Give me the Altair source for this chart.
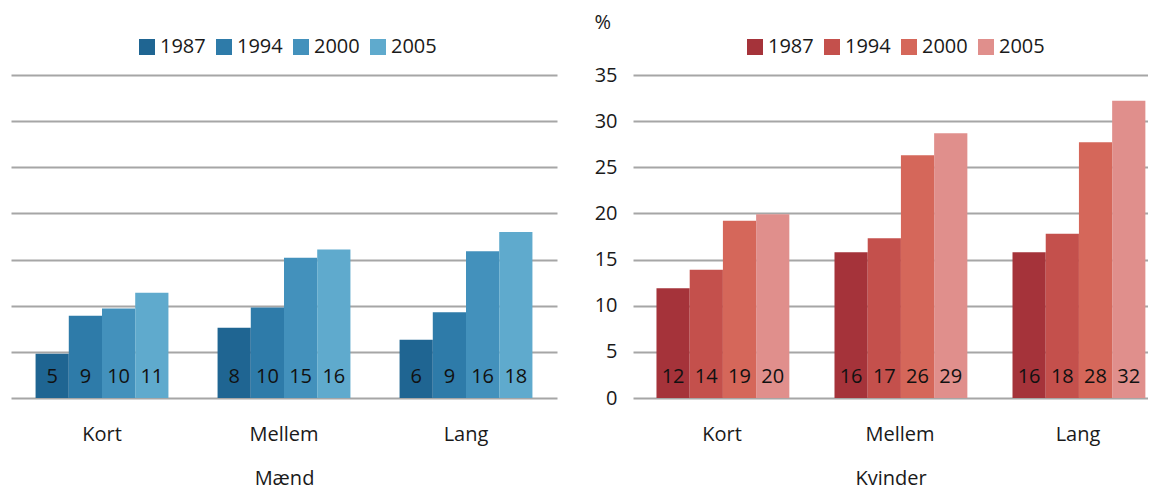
import altair as alt
import pandas as pd

categories = ["Kort", "Mellem", "Lang"]
years = ["1987", "1994", "2000", "2005"]

# Mænd (men), per category, values for 1987, 1994, 2000, 2005
maend_kort = [4.8, 8.9, 9.7, 11.4]
maend_mellem = [7.6, 9.8, 15.2, 16.1]
maend_lang = [6.3, 9.3, 15.9, 18.0]

# Kvinder (women)
kvinder_kort = [11.9, 13.9, 19.2, 19.9]
kvinder_mellem = [15.8, 17.3, 26.3, 28.7]
kvinder_lang = [15.8, 17.8, 27.7, 32.2]

y_ticks = [0, 5, 10, 15, 20, 25, 30, 35]

blue_colors = ["#1f6592", "#2e7ba9", "#4391bc", "#5faacd"]
red_colors = ["#a5333a", "#c4504c", "#d5675a", "#e08f8c"]

FONT = "Open Sans"


def build_df(series):
    rows = []
    for cat, vals in zip(categories, series):
        for yr, v in zip(years, vals):
            rows.append({"cat": cat, "year": yr, "value": v, "zero": 0})
    return pd.DataFrame(rows)


def panel(df, colors, title, width, legend_x, show_y, xs):
    base = alt.Chart(df).encode(
        x=alt.X(
            "cat:N",
            sort=categories,
            scale=xs,
            title=title,
            axis=alt.Axis(
                domain=False, ticks=False, tickSize=0, grid=False,
                labelAngle=0, labelPadding=42, labelBaseline="alphabetic",
                labelFontSize=20, labelColor="#1a1a1a", labelFont=FONT,
                titleY=86, titleBaseline="alphabetic", titleFontSize=20,
                titleFontWeight="normal", titleColor="#1a1a1a", titleFont=FONT,
            ),
        ),
        xOffset=alt.XOffset(
            "year:N", sort=years, scale=alt.Scale(paddingInner=0, paddingOuter=0)
        ),
    )
    if show_y:
        yaxis = alt.Axis(
            values=y_ticks, grid=True, domain=False, ticks=False, tickSize=0,
            labelPadding=16, labelFontSize=20, labelColor="#1a1a1a", labelFont=FONT,
            gridColor="#a6a6a6", gridWidth=2,
            titleAngle=0, titleAlign="left", titleX=-39, titleY=-53,
            titleBaseline="middle", titleFontSize=20, titleFontWeight="normal",
            titleColor="#1a1a1a", titleFont=FONT,
        )
        ytitle = "%"
    else:
        yaxis = alt.Axis(
            values=y_ticks, grid=True, domain=False, ticks=False, tickSize=0,
            labels=False, gridColor="#a6a6a6", gridWidth=2,
            minExtent=0, maxExtent=0,
        )
        ytitle = None
    yscale = alt.Scale(domain=[0, 35], nice=False, zero=True)
    bars = base.mark_bar(strokeWidth=0).encode(
        y=alt.Y("value:Q", scale=yscale, axis=yaxis, title=ytitle),
        color=alt.Color(
            "year:N",
            sort=years,
            scale=alt.Scale(domain=years, range=colors),
            legend=alt.Legend(
                orient="none", legendX=legend_x, legendY=-38,
                direction="horizontal", columns=4, title=None,
                symbolType="square", symbolSize=256, symbolStrokeWidth=0,
                symbolOpacity=1, labelFontSize=20, labelFont=FONT,
                labelColor="#1a1a1a", labelOffset=3, columnPadding=8,
                padding=0,
            ),
        ),
    )
    labels = base.mark_text(
        baseline="alphabetic", dy=-15, fontSize=20, font=FONT, color="#111111"
    ).encode(
        y=alt.Y("zero:Q", scale=yscale, axis=yaxis, title=ytitle),
        text=alt.Text("value:Q", format=".0f"),
    )
    return alt.layer(bars, labels).properties(width=width, height=323)


df_m = build_df([maend_kort, maend_mellem, maend_lang])
df_k = build_df([kvinder_kort, kvinder_mellem, kvinder_lang])

left_scale = alt.Scale(paddingInner=0.27, paddingOuter=0.135)
right_scale = alt.Scale(paddingInner=0.264, paddingOuter=0.0785, align=0.84)

left = panel(df_m, blue_colors, "Mænd", 546, 126, False, left_scale)
right = panel(df_k, red_colors, "Kvinder", 515, 112, True, right_scale)

chart = (
    alt.hconcat(left, right, spacing=76, bounds="flush")
    .resolve_scale(color="independent")
    .properties(padding={"left": 3, "top": 4, "right": 0, "bottom": 8}, background="white")
    .configure(font=FONT)
    .configure_view(stroke=None)
)

chart.save("out.html", embed_options={"renderer": "svg", "actions": False})
